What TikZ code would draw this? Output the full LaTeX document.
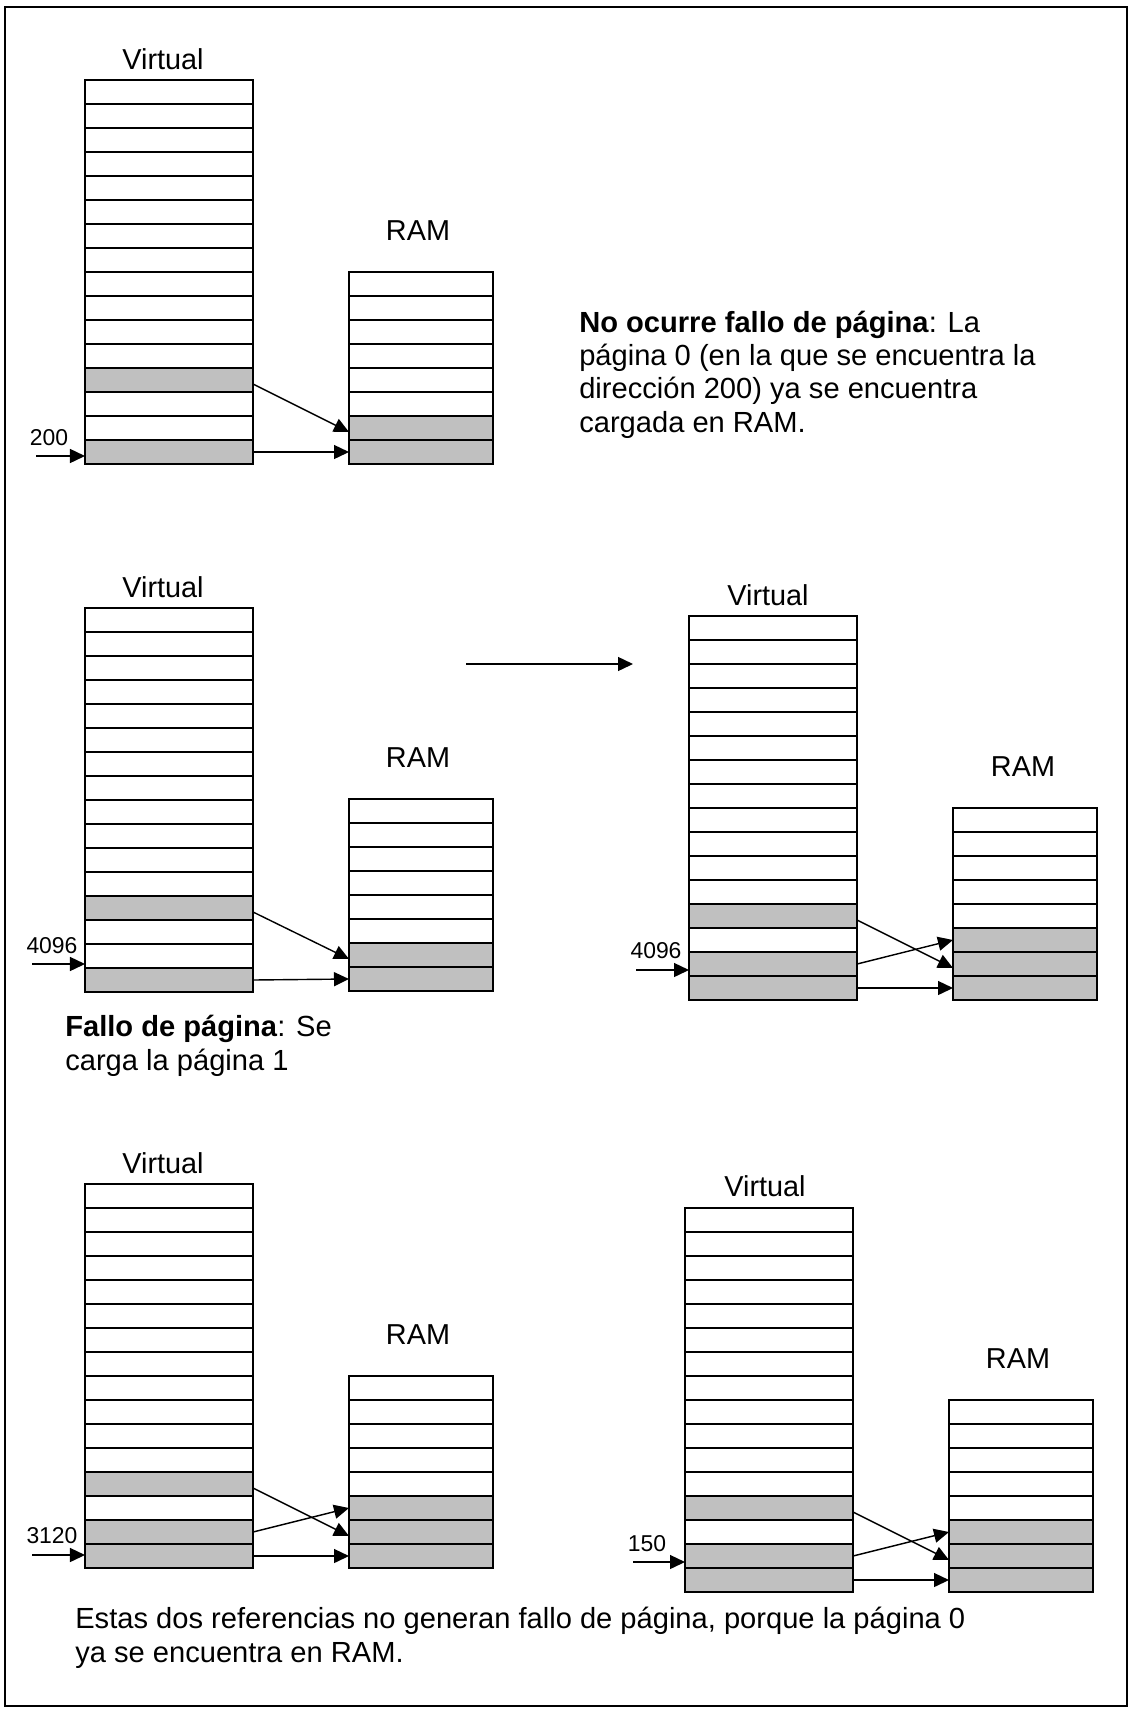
\documentclass[tikz,border=0pt]{standalone}
\usepackage{fontspec}
\setmainfont{Liberation Sans}
\usetikzlibrary{positioning,arrows.meta,calc}
\definecolor{pagegray}{RGB}{192,192,192}
\tikzset{
    vpage/.style = {
        draw,
        shape=rectangle,
        anchor=north west,
        minimum width=4.2cm,
        minimum height=0.6cm,
        inner sep=0pt,
        outer sep=0pt,
        line width=1.4pt,
        fill=white
    },
    rpage/.style = {
        vpage,
        minimum width=3.6cm
    },
    loaded/.style = {
        fill=pagegray
    },
    title/.style = {
        font=\fontsize{20.5}{24}\selectfont
    },
    addr/.style = {
        font=\fontsize{16.3}{19}\selectfont,
        inner sep=0pt
    },
    note/.style = {
        font=\fontsize{20.7}{23.5}\selectfont,
        align=left,
        anchor=base west,
        inner sep=0pt
    },
    link/.style = {
        draw,
        ->,
        line width=1pt
    },
    >={Triangle[length=3.75mm,width=3.5mm]},
}
% one column of pages: name, style, x, top, rows
\newcommand{\pagecol}[5]{%
    \foreach \i in {#5}
        \node[#2] (#1-\i) at (#3, #4+24*\i-24) {};
}

\begin{document}
\begin{tikzpicture}[x=0.025cm, y=-0.025cm]
    \useasboundingbox (0,0) rectangle (1130,1709);
    \draw[line width=1.4pt] (5,7) rectangle (1127,1706);

    % direccion 200
    \pagecol{v1}{vpage}{85}{80}{1,...,12,14,15}
    \pagecol{v1}{vpage,loaded}{85}{80}{13,16}
    \pagecol{r1}{rpage}{349}{272}{1,...,6}
    \pagecol{r1}{rpage,loaded}{349}{272}{7,8}
    \node[title] (vt1) at (163,59) {Virtual};
    \node[title] (rt1) at (418,231) {RAM};
    \node[addr] (a1) at (49,438) {200};
    \coordinate (in1) at (36,456);
    \path[link] (in1) -- (in1 -| v1-16.west);
    \path[link] ([yshift=-1mm]v1-13.east) -- ([yshift=-1mm]r1-7.west);
    \path[link] (v1-16.east) -- (r1-8.west);
    % base = last line
    \node[note] (n1) at (579,432) {\textbf{No ocurre fallo de página}: La\\página 0 (en la que se encuentra la\\dirección 200) ya se encuentra\\cargada en RAM.};

    % direccion 4096, antes
    \pagecol{v2}{vpage}{85}{608}{1,...,12,14,15}
    \pagecol{v2}{vpage,loaded}{85}{608}{13,16}
    \pagecol{r2}{rpage}{349}{799}{1,...,6}
    \pagecol{r2}{rpage,loaded}{349}{799}{7,8}
    \node[title] (vt2) at (163,587) {Virtual};
    \node[title] (rt2) at (418,758) {RAM};
    \node[addr] (a2) at (52,946) {4096};
    \coordinate (in2) at (32,964);
    \path[link] (in2) -- (in2 -| v2-16.west);
    \path[link] ([yshift=-1mm]v2-13.east) -- ([yshift=-1mm]r2-7.west);
    \path[link] (v2-16.east) -- (r2-8.west);
    \node[note] (n2) at (65,1070) {\textbf{Fallo de página}: Se\\carga la página 1};

    \coordinate (ms) at (466,664);
    \coordinate (me) at (633,664);
    \path[link] (ms) -- (me);

    % direccion 4096, despues
    \pagecol{v3}{vpage}{689}{616}{1,...,12,14}
    \pagecol{v3}{vpage,loaded}{689}{616}{13,15,16}
    \pagecol{r3}{rpage}{953}{808}{1,...,5}
    \pagecol{r3}{rpage,loaded}{953}{808}{6,7,8}
    \node[title] (vt3) at (768,595) {Virtual};
    \node[title] (rt3) at (1023,767) {RAM};
    \node[addr] (a3) at (656,951) {4096};
    \coordinate (in3) at (636,970);
    \path[link] (in3) -- (in3 -| v3-15.west);
    \path[link] ([yshift=-1mm]v3-13.east) -- ([yshift=-1mm]r3-7.west);
    \path[link] (v3-15.east) -- (r3-6.west);
    \path[link] (v3-16.east) -- (r3-8.west);

    % direccion 3120
    \pagecol{v4}{vpage}{85}{1184}{1,...,12,14}
    \pagecol{v4}{vpage,loaded}{85}{1184}{13,15,16}
    \pagecol{r4}{rpage}{349}{1376}{1,...,5}
    \pagecol{r4}{rpage,loaded}{349}{1376}{6,7,8}
    \node[title] (vt4) at (163,1163) {Virtual};
    \node[title] (rt4) at (418,1335) {RAM};
    \node[addr] (a4) at (52,1536) {3120};
    \coordinate (in4) at (32,1555);
    \path[link] (in4) -- (in4 -| v4-16.west);
    \path[link] ([yshift=-1mm]v4-13.east) -- ([yshift=-1mm]r4-7.west);
    \path[link] (v4-15.east) -- (r4-6.west);
    \path[link] (v4-16.east) -- (r4-8.west);

    % direccion 150
    \pagecol{v5}{vpage}{685}{1208}{1,...,12,14}
    \pagecol{v5}{vpage,loaded}{685}{1208}{13,15,16}
    \pagecol{r5}{rpage}{949}{1400}{1,...,5}
    \pagecol{r5}{rpage,loaded}{949}{1400}{6,7,8}
    \node[title] (vt5) at (765,1186) {Virtual};
    \node[title] (rt5) at (1018,1359) {RAM};
    \node[addr] (a5) at (647,1544) {150};
    \coordinate (in5) at (633,1562);
    \path[link] (in5) -- (in5 -| v5-15.west);
    \path[link] ([yshift=-1mm]v5-13.east) -- ([yshift=-1mm]r5-7.west);
    \path[link] (v5-15.east) -- (r5-6.west);
    \path[link] (v5-16.east) -- (r5-8.west);

    \node[note] (n3) at (75,1662) {Estas dos referencias no generan fallo de página, porque la página 0\\ya se encuentra en RAM.};
\end{tikzpicture}
\end{document}
